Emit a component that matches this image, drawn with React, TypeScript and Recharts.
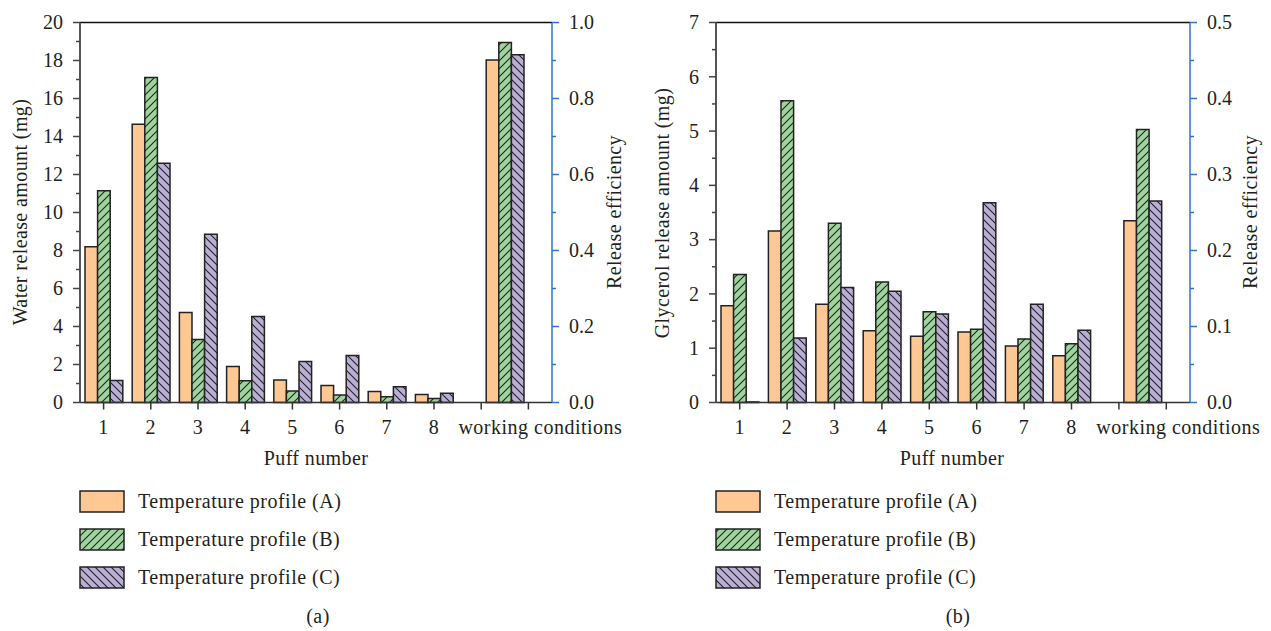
import React from "react";
import { BarChart, Bar, XAxis, YAxis, ReferenceLine } from "recharts";

// x positions of the groups: puffs 1..8, then "working conditions" sits between ticks 9 and 10
const groupPositions = [1, 2, 3, 4, 5, 6, 7, 8, 9.5];
const xTicks = [1, 2, 3, 4, 5, 6, 7, 8, 9, 10];
const xTickLabels = ["1", "2", "3", "4", "5", "6", "7", "8", "", "working conditions"];

// (a) water release amount (mg)
const waterA = [8.2, 14.64, 4.74, 1.9, 1.18, 0.9, 0.58, 0.42, 18.02];
const waterB = [11.15, 17.1, 3.32, 1.14, 0.6, 0.39, 0.3, 0.21, 18.95];
const waterC = [1.16, 12.59, 8.85, 4.53, 2.16, 2.48, 0.83, 0.49, 18.3];

// (b) glycerol release amount (mg)
const glycerolA = [1.78, 3.16, 1.81, 1.32, 1.22, 1.3, 1.04, 0.86, 3.35];
const glycerolB = [2.36, 5.56, 3.3, 2.22, 1.67, 1.35, 1.17, 1.08, 5.03];
const glycerolC = [0.01, 1.19, 2.12, 2.05, 1.63, 3.68, 1.81, 1.33, 3.71];

const waterTicks = [0, 1, 2, 3, 4, 5, 6, 7, 8, 9, 10, 11, 12, 13, 14, 15, 16, 17, 18, 19, 20];
const waterMajor = [0, 2, 4, 6, 8, 10, 12, 14, 16, 18, 20];
const effTicksA = [0, 0.1, 0.2, 0.3, 0.4, 0.5, 0.6, 0.7, 0.8, 0.9, 1.0];
const effMajorA = [0, 0.2, 0.4, 0.6, 0.8, 1.0];

const glycerolTicks = [0, 0.5, 1, 1.5, 2, 2.5, 3, 3.5, 4, 4.5, 5, 5.5, 6, 6.5, 7];
const glycerolMajor = [0, 1, 2, 3, 4, 5, 6, 7];
const effTicksB = [0, 0.05, 0.1, 0.15, 0.2, 0.25, 0.3, 0.35, 0.4, 0.45, 0.5];
const effMajorB = [0, 0.1, 0.2, 0.3, 0.4, 0.5];

const legendLabels = [
  "Temperature profile (A)",
  "Temperature profile (B)",
  "Temperature profile (C)",
];

const FONT = "'Liberation Serif', 'Times New Roman', serif";
const TEXT = "#231f20";
const BLUE = "#2f74d0";
const COLOR_A = "#fec894";
const COLOR_B = "#a0d49e";
const COLOR_C = "#bbaed6";

const toRows = (a: number[], b: number[], c: number[]) =>
  groupPositions.map((x, i) => ({ x, a: a[i], b: b[i], c: c[i] }));

const isMajor = (list: number[], v: number) => list.some((m) => Math.abs(m - v) < 1e-9);

function Hatches({ prefix }: { prefix: string }) {
  return (
    <defs>
      <pattern id={`${prefix}-b`} patternUnits="userSpaceOnUse" width="8" height="8">
        <rect width="8" height="8" fill={COLOR_B} />
        <path d="M-2,2 l4,-4 M0,8 l8,-8 M6,10 l4,-4" stroke="#222" strokeWidth="1.1" />
      </pattern>
      <pattern id={`${prefix}-c`} patternUnits="userSpaceOnUse" width="8" height="8">
        <rect width="8" height="8" fill={COLOR_C} />
        <path d="M-2,6 l4,4 M0,0 l8,8 M6,-2 l4,4" stroke="#222" strokeWidth="1.1" />
      </pattern>
    </defs>
  );
}

function YTick(props: any) {
  const { x, y, payload, side, majors, color, decimals } = props;
  const v = payload.value as number;
  const major = isMajor(majors, v);
  const dir = side === "left" ? -1 : 1;
  const len = major ? 7 : 4;
  return (
    <g>
      <line x1={x} x2={x + dir * len} y1={y} y2={y} stroke={color} strokeWidth={1.5} />
      {major && (
        <text
          x={x + dir * 17}
          y={y}
          dy="0.34em"
          textAnchor={side === "left" ? "end" : "start"}
          fontFamily={FONT}
          fontSize={20}
          fill={TEXT}
        >
          {v.toFixed(decimals)}
        </text>
      )}
    </g>
  );
}

function XTick(props: any) {
  const { x, y, payload } = props;
  const label = xTickLabels[xTicks.indexOf(payload.value)] ?? "";
  const shift = label.length > 2 ? 12 : 0;
  return (
    <text
      x={x + shift}
      y={y}
      dy={20}
      textAnchor="middle"
      fontFamily={FONT}
      fontSize={20}
      letterSpacing={0.5}
      fill={TEXT}
    >
      {label}
    </text>
  );
}

interface PanelProps {
  id: string;
  left: number;
  marginRight: number;
  rows: { x: number; a: number; b: number; c: number }[];
  leftTicks: number[];
  leftMajor: number[];
  leftMax: number;
  rightTicks: number[];
  rightMajor: number[];
  rightMax: number;
}

function Panel(p: PanelProps) {
  return (
    <div style={{ position: "absolute", left: p.left, top: 0 }}>
      <BarChart
        width={640}
        height={480}
        data={p.rows}
        barGap={0}
        margin={{ top: 22.5, right: p.marginRight, left: 20, bottom: 17.5 }}
      >
        <Hatches prefix={p.id} />
        <XAxis
          dataKey="x"
          type="number"
          domain={[0.5, 10.5]}
          ticks={xTicks}
          interval={0}
          height={60}
          tickSize={7}
          tickMargin={4}
          axisLine={{ stroke: "#333", strokeWidth: 1.5 }}
          tickLine={{ stroke: "#333", strokeWidth: 1.5 }}
          tick={(t: any) => <XTick {...t} />}
        />
        <YAxis
          yAxisId="left"
          orientation="left"
          width={60}
          domain={[0, p.leftMax]}
          ticks={p.leftTicks}
          interval={0}
          tickSize={0}
          tickMargin={0}
          tickLine={false}
          axisLine={{ stroke: "#555", strokeWidth: 2 }}
          tick={(t: any) => (
            <YTick {...t} side="left" majors={p.leftMajor} color="#444" decimals={0} />
          )}
        />
        <YAxis
          yAxisId="right"
          orientation="right"
          width={60}
          domain={[0, p.rightMax]}
          allowDataOverflow
          ticks={p.rightTicks}
          interval={0}
          tickSize={0}
          tickMargin={0}
          tickLine={false}
          axisLine={{ stroke: BLUE, strokeWidth: 1.5 }}
          tick={(t: any) => (
            <YTick {...t} side="right" majors={p.rightMajor} color={BLUE} decimals={1} />
          )}
        />
        <ReferenceLine yAxisId="left" y={p.leftMax} stroke="#111" strokeWidth={1.5} />
        <Bar
          yAxisId="left"
          dataKey="a"
          fill={COLOR_A}
          stroke="#222"
          strokeWidth={1.5}
          barSize={12.6}
          isAnimationActive={false}
        />
        <Bar
          yAxisId="left"
          dataKey="b"
          fill={`url(#${p.id}-b)`}
          stroke="#222"
          strokeWidth={1.5}
          barSize={12.6}
          isAnimationActive={false}
        />
        <Bar
          yAxisId="left"
          dataKey="c"
          fill={`url(#${p.id}-c)`}
          stroke="#222"
          strokeWidth={1.5}
          barSize={12.6}
          isAnimationActive={false}
        />
      </BarChart>
    </div>
  );
}

function Legend({ x, prefix }: { x: number; prefix: string }) {
  const fills = [COLOR_A, `url(#${prefix}-b)`, `url(#${prefix}-c)`];
  const tops = [491, 529, 567];
  return (
    <g>
      {legendLabels.map((label, i) => (
        <g key={label}>
          <rect
            x={x}
            y={tops[i]}
            width={44}
            height={21}
            fill={fills[i]}
            stroke="#222"
            strokeWidth={1.5}
          />
          <text
            x={x + 58}
            y={tops[i] + 10.5}
            dy="0.34em"
            fontFamily={FONT}
            fontSize={20}
            letterSpacing={0.5}
            fill={TEXT}
          >
            {label}
          </text>
        </g>
      ))}
    </g>
  );
}

function Title({ x, y, text, rotate }: { x: number; y: number; text: string; rotate?: boolean }) {
  return (
    <text
      x={x}
      y={y}
      dy={rotate ? "0.34em" : 0}
      transform={rotate ? `rotate(-90 ${x} ${y})` : undefined}
      textAnchor="middle"
      fontFamily={FONT}
      fontSize={20}
      letterSpacing={0.4}
      fill={TEXT}
    >
      {text}
    </text>
  );
}

export default function App() {
  return (
    <div
      style={{
        position: "absolute",
        left: 0,
        top: 0,
        width: 1271,
        height: 631,
        background: "#fff",
        overflow: "hidden",
      }}
    >
      <Panel
        id="pa"
        left={0}
        marginRight={28}
        rows={toRows(waterA, waterB, waterC)}
        leftTicks={waterTicks}
        leftMajor={waterMajor}
        leftMax={20}
        rightTicks={effTicksA}
        rightMajor={effMajorA}
        rightMax={1}
      />
      <Panel
        id="pb"
        left={636}
        marginRight={26}
        rows={toRows(glycerolA, glycerolB, glycerolC)}
        leftTicks={glycerolTicks}
        leftMajor={glycerolMajor}
        leftMax={7}
        rightTicks={effTicksB}
        rightMajor={effMajorB}
        rightMax={0.5}
      />
      <svg
        width={1271}
        height={631}
        style={{ position: "absolute", left: 0, top: 0, pointerEvents: "none" }}
      >
        <Hatches prefix="lg" />
        <Title x={20} y={212} text="Water release amount (mg)" rotate />
        <Title x={614} y={212} text="Release efficiency" rotate />
        <Title x={662} y={213} text="Glycerol release amount (mg)" rotate />
        <Title x={1250} y={212} text="Release efficiency" rotate />
        <Title x={316} y={465} text="Puff number" />
        <Title x={952} y={465} text="Puff number" />
        <Legend x={80} prefix="lg" />
        <Legend x={716} prefix="lg" />
        <Title x={318} y={623} text="(a)" />
        <Title x={958} y={623} text="(b)" />
      </svg>
    </div>
  );
}
